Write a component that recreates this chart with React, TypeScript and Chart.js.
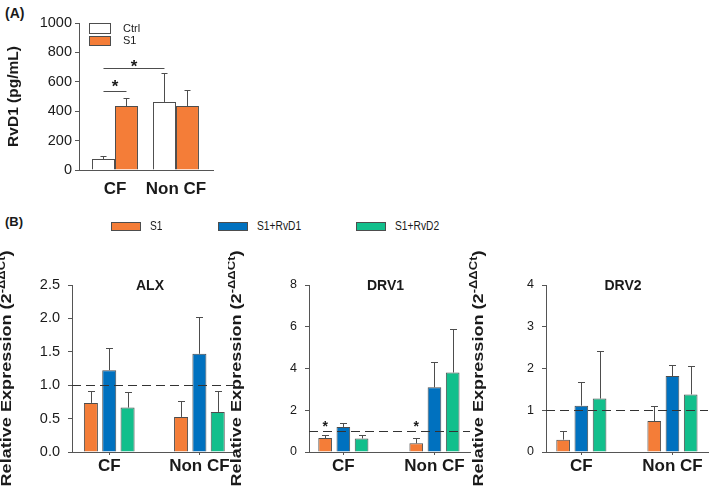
import React, { useEffect, useRef } from 'react';
import { Chart, registerables } from 'chart.js';

Chart.register(...registerables);

const FONT = '"Liberation Sans", Arial, Helvetica, sans-serif';
const ORANGE = '#F47D38';
const BLUE = '#0071BF';
const GREEN = '#12BF8C';
const WHITE = '#FFFFFF';
const EDGE = '#4d4d4d';
const AXIS = '#555555';
const TEXT = '#1a1a1a';

// ---------- shared categories ----------
const categories = ['CF', 'Non CF'];

// ---------- panel (A) ----------
const seriesA = ['Ctrl', 'S1'];
const ctrlA = [75, 463];
const ctrlASd = [22, 195];
const s1A = [435, 435];
const s1ASd = [52, 107];
const yTicksA = [0, 200, 400, 600, 800, 1000];
// bracket from (series, category) to (series, category), at value y, star at value star
const bracketsA = [
  { from: [0, 0], to: [1, 0], y: 537, star: 594 },
  { from: [0, 0], to: [0, 1], y: 696, star: 733 },
];

// ---------- panel (B) ----------
const seriesB = ['S1', 'S1+RvD1', 'S1+RvD2'];

const alxS1 = [0.735, 0.525];
const alxS1Sd = [0.18, 0.235];
const alxRvD1 = [1.225, 1.47];
const alxRvD1Sd = [0.325, 0.545];
const alxRvD2 = [0.665, 0.6];
const alxRvD2Sd = [0.235, 0.32];
const alxTicks = [0, 0.5, 1.0, 1.5, 2.0, 2.5];

const drv1S1 = [0.67, 0.415];
const drv1S1Sd = [0.13, 0.235];
const drv1RvD1 = [1.2, 3.1];
const drv1RvD1Sd = [0.19, 1.22];
const drv1RvD2 = [0.65, 3.81];
const drv1RvD2Sd = [0.18, 2.09];
const drv1Ticks = [0, 2, 4, 6, 8];
const drv1Stars = [
  { series: 0, cat: 0, y: 1.4 },
  { series: 0, cat: 1, y: 1.4 },
];

const drv2S1 = [0.295, 0.74];
const drv2S1Sd = [0.205, 0.36];
const drv2RvD1 = [1.11, 1.82];
const drv2RvD1Sd = [0.57, 0.26];
const drv2RvD2 = [1.28, 1.38];
const drv2RvD2Sd = [1.14, 0.69];
const drv2Ticks = [0, 1, 2, 3, 4];

const refValue = 1;

type Series = { label: string; values: number[]; sd: number[]; color: string };

type Spec = {
  left: number; top: number; width: number; height: number;
  padding: { left: number; right: number; top: number; bottom: number };
  yWidth: number; xHeight: number;
  xMin: number; xMax: number;
  yTicks: number[]; yDec: number; yFont: number; yPad: number;
  xFont: number; xPad: number; xTickLen: number;
  catPct: number; barPct: number; cap: number;
  series: Series[];
  title?: string;
  ref?: number;
  stars?: { series: number; cat: number; y: number }[];
  starSize?: number;
  brackets?: { from: number[]; to: number[]; y: number; star: number }[];
  yTitle: { main: string; sup?: string; tail?: string; x: number; size: number; length?: number };
};

function drawStar(ctx: CanvasRenderingContext2D, x: number, cy: number, size: number) {
  ctx.save();
  ctx.font = `bold ${size}px ${FONT}`;
  ctx.fillStyle = TEXT;
  ctx.textAlign = 'center';
  ctx.textBaseline = 'alphabetic';
  ctx.fillText('*', x, cy + size * 0.57);
  ctx.restore();
}

function drawYTitle(ctx: CanvasRenderingContext2D, cx: number, cy: number, t: Spec['yTitle']) {
  ctx.save();
  ctx.translate(cx, cy);
  ctx.rotate(-Math.PI / 2);
  const f1 = `bold ${t.size}px ${FONT}`;
  const f2 = `bold ${t.size * 0.72}px ${FONT}`;
  ctx.font = f1;
  const w1 = ctx.measureText(t.main).width;
  const w3 = t.tail ? ctx.measureText(t.tail).width : 0;
  ctx.font = f2;
  const w2 = t.sup ? ctx.measureText(t.sup).width : 0;
  const total = w1 + w2 + w3;
  const s = t.length ? t.length / total : 1;
  ctx.scale(s, 1);
  ctx.fillStyle = TEXT;
  ctx.textBaseline = 'middle';
  ctx.textAlign = 'left';
  let px = -total / 2;
  ctx.font = f1;
  ctx.fillText(t.main, px, 0);
  px += w1;
  if (t.sup) {
    ctx.font = f2;
    ctx.fillText(t.sup, px, -t.size * 0.34);
    px += w2;
  }
  if (t.tail) {
    ctx.font = f1;
    ctx.fillText(t.tail, px, 0);
  }
  ctx.restore();
}

function decorPlugin(spec: Spec) {
  return {
    id: 'decor',
    afterDatasetsDraw(chart: any) {
      const ctx: CanvasRenderingContext2D = chart.ctx;
      const area = chart.chartArea;
      const ys = chart.scales.y;
      ctx.save();
      // error bars (upper only)
      ctx.strokeStyle = EDGE;
      ctx.lineWidth = 1;
      spec.series.forEach((s, i) => {
        const meta = chart.getDatasetMeta(i);
        meta.data.forEach((bar: any, j: number) => {
          const x = Math.round(bar.x) + 0.5;
          const y0 = ys.getPixelForValue(s.values[j]);
          const y1 = Math.round(ys.getPixelForValue(s.values[j] + s.sd[j])) + 0.5;
          ctx.beginPath();
          ctx.moveTo(x, y0);
          ctx.lineTo(x, y1);
          ctx.moveTo(x - spec.cap / 2, y1);
          ctx.lineTo(x + spec.cap / 2, y1);
          ctx.stroke();
        });
      });
      // reference line
      if (spec.ref !== undefined) {
        const y = Math.round(ys.getPixelForValue(spec.ref)) + 0.5;
        ctx.save();
        ctx.strokeStyle = '#333333';
        ctx.setLineDash([9, 5]);
        ctx.beginPath();
        ctx.moveTo(area.left, y);
        ctx.lineTo(area.right, y);
        ctx.stroke();
        ctx.restore();
      }
      // stars over bars
      (spec.stars || []).forEach((st) => {
        const bar: any = chart.getDatasetMeta(st.series).data[st.cat];
        drawStar(ctx, bar.x, ys.getPixelForValue(st.y), spec.starSize || 14);
      });
      // brackets
      (spec.brackets || []).forEach((b) => {
        const a: any = chart.getDatasetMeta(b.from[0]).data[b.from[1]];
        const c: any = chart.getDatasetMeta(b.to[0]).data[b.to[1]];
        const y = Math.round(ys.getPixelForValue(b.y)) + 0.5;
        ctx.strokeStyle = EDGE;
        ctx.beginPath();
        ctx.moveTo(a.x, y);
        ctx.lineTo(c.x, y);
        ctx.stroke();
        drawStar(ctx, (a.x + c.x) / 2, ys.getPixelForValue(b.star), spec.starSize || 17);
      });
      // panel title
      if (spec.title) {
        ctx.font = `bold 14px ${FONT}`;
        ctx.fillStyle = TEXT;
        ctx.textAlign = 'center';
        ctx.textBaseline = 'middle';
        ctx.fillText(spec.title, (area.left + area.right) / 2 - 4, area.top + 1);
      }
      // y axis title
      drawYTitle(ctx, spec.yTitle.x, (area.top + area.bottom) / 2, spec.yTitle);
      ctx.restore();
    },
  };
}

function buildConfig(spec: Spec): any {
  const yMin = spec.yTicks[0];
  const yMax = spec.yTicks[spec.yTicks.length - 1];
  return {
    type: 'bar',
    data: {
      datasets: spec.series.map((s) => ({
        label: s.label,
        data: s.values.map((v, i) => ({ x: i + 1, y: v })),
        backgroundColor: s.color,
        borderColor: EDGE,
        borderWidth: 1,
        categoryPercentage: spec.catPct,
        barPercentage: spec.barPct,
      })),
    },
    options: {
      responsive: false,
      animation: false,
      devicePixelRatio: 1,
      layout: { padding: spec.padding },
      plugins: { legend: { display: false }, tooltip: { enabled: false }, title: { display: false } },
      scales: {
        x: {
          type: 'linear',
          bounds: 'data',
          offset: false,
          min: spec.xMin,
          max: spec.xMax,
          afterBuildTicks: (s: any) => {
            s.ticks = categories.map((_, i) => ({ value: i + 1 }));
          },
          afterFit: (s: any) => {
            s.height = spec.xHeight;
          },
          ticks: {
            autoSkip: false,
            maxRotation: 0,
            padding: spec.xPad,
            color: TEXT,
            font: { family: FONT, size: spec.xFont, weight: 'bold' },
            callback: (v: any) => categories[Math.round(Number(v)) - 1] ?? '',
          },
          grid: {
            display: true,
            offset: false,
            drawOnChartArea: false,
            drawTicks: spec.xTickLen > 0,
            tickLength: spec.xTickLen,
            color: AXIS,
          },
          border: { display: true, color: AXIS, width: 1 },
        },
        y: {
          type: 'linear',
          bounds: 'data',
          min: yMin,
          max: yMax,
          afterBuildTicks: (s: any) => {
            s.ticks = spec.yTicks.map((v) => ({ value: v }));
          },
          afterFit: (s: any) => {
            s.width = spec.yWidth;
          },
          ticks: {
            padding: spec.yPad,
            color: TEXT,
            font: { family: FONT, size: spec.yFont },
            callback: (v: any) => Number(v).toFixed(spec.yDec),
          },
          grid: { display: true, drawOnChartArea: false, drawTicks: true, tickLength: 4, color: AXIS },
          border: { display: true, color: AXIS, width: 1 },
        },
      },
    },
    plugins: [decorPlugin(spec)],
  };
}

const specA: Spec = {
  left: 0, top: 0, width: 230, height: 200,
  padding: { left: 29, right: 17, top: 23, bottom: 0 },
  yWidth: 50, xHeight: 30,
  xMin: 0.41, xMax: 2.607,
  yTicks: yTicksA, yDec: 0, yFont: 14.5, yPad: 3,
  xFont: 17, xPad: 9, xTickLen: 0,
  catPct: 0.754, barPct: 1, cap: 6,
  series: [
    { label: seriesA[0], values: ctrlA, sd: ctrlASd, color: WHITE },
    { label: seriesA[1], values: s1A, sd: s1ASd, color: ORANGE },
  ],
  brackets: bracketsA,
  starSize: 17,
  yTitle: { main: 'RvD1 (pg/mL)', x: 13.5, size: 15.5 },
};

const yTitleB = { main: 'Relative Expression (2', sup: '-ΔΔCt', tail: ')', size: 14, length: 236 };

function seriesFor(a: number[], aSd: number[], b: number[], bSd: number[], c: number[], cSd: number[]): Series[] {
  return [
    { label: seriesB[0], values: a, sd: aSd, color: ORANGE },
    { label: seriesB[1], values: b, sd: bSd, color: BLUE },
    { label: seriesB[2], values: c, sd: cSd, color: GREEN },
  ];
}

const specALX: Spec = {
  left: 0, top: 240, width: 240, height: 250,
  padding: { left: 27, right: 4, top: 45, bottom: 0 },
  yWidth: 45, xHeight: 38,
  xMin: 0.587, xMax: 2.406,
  yTicks: alxTicks, yDec: 1, yFont: 14.5, yPad: 8,
  xFont: 17, xPad: 1.5, xTickLen: 3,
  catPct: 0.61, barPct: 0.765, cap: 7,
  series: seriesFor(alxS1, alxS1Sd, alxRvD1, alxRvD1Sd, alxRvD2, alxRvD2Sd),
  title: 'ALX',
  ref: refValue,
  yTitle: { ...yTitleB, x: 7 },
};

const specDRV1: Spec = {
  left: 228, top: 240, width: 245, height: 250,
  padding: { left: 41, right: 3, top: 45, bottom: 0 },
  yWidth: 40, xHeight: 38,
  xMin: 0.623, xMax: 2.39,
  yTicks: drv1Ticks, yDec: 0, yFont: 12.5, yPad: 8,
  xFont: 17, xPad: 1.5, xTickLen: 3,
  catPct: 0.6, barPct: 0.75, cap: 7,
  series: seriesFor(drv1S1, drv1S1Sd, drv1RvD1, drv1RvD1Sd, drv1RvD2, drv1RvD2Sd),
  title: 'DRV1',
  ref: refValue,
  stars: drv1Stars,
  starSize: 14,
  yTitle: { ...yTitleB, x: 9 },
};

const specDRV2: Spec = {
  left: 466, top: 240, width: 243, height: 250,
  padding: { left: 40, right: 1, top: 45, bottom: 0 },
  yWidth: 40, xHeight: 38,
  xMin: 0.612, xMax: 2.39,
  yTicks: drv2Ticks, yDec: 0, yFont: 12.5, yPad: 8,
  xFont: 17, xPad: 1.5, xTickLen: 3,
  catPct: 0.6, barPct: 0.75, cap: 7,
  series: seriesFor(drv2S1, drv2S1Sd, drv2RvD1, drv2RvD1Sd, drv2RvD2, drv2RvD2Sd),
  title: 'DRV2',
  ref: refValue,
  yTitle: { ...yTitleB, x: 12.7 },
};

function ChartPanel({ spec }: { spec: Spec }) {
  const ref = useRef<HTMLCanvasElement>(null);
  useEffect(() => {
    const chart = new Chart(ref.current as HTMLCanvasElement, buildConfig(spec));
    return () => chart.destroy();
  }, [spec]);
  return (
    <canvas
      ref={ref}
      width={spec.width}
      height={spec.height}
      style={{ position: 'absolute', left: spec.left, top: spec.top, width: spec.width, height: spec.height }}
    />
  );
}

function Text({ x, cy, size, bold, children, scaleX }: any) {
  return (
    <div
      style={{
        position: 'absolute',
        left: x,
        top: cy - size / 2,
        height: size,
        lineHeight: `${size}px`,
        fontSize: size,
        fontFamily: FONT,
        fontWeight: bold ? 'bold' : 'normal',
        color: TEXT,
        whiteSpace: 'nowrap',
        transform: scaleX ? `scaleX(${scaleX})` : undefined,
        transformOrigin: 'left center',
      }}
    >
      {children}
    </div>
  );
}

function Box({ x, y, w, h, color }: any) {
  return (
    <div
      style={{
        position: 'absolute',
        left: x,
        top: y,
        width: w,
        height: h,
        boxSizing: 'border-box',
        border: `1px solid ${EDGE}`,
        background: color,
      }}
    />
  );
}

export default function App() {
  const legendB = [
    { x: 111, label: seriesB[0], color: ORANGE },
    { x: 218, label: seriesB[1], color: BLUE },
    { x: 356, label: seriesB[2], color: GREEN },
  ];
  return (
    <div style={{ position: 'fixed', left: 0, top: 0, width: 709, height: 490, background: '#fff', overflow: 'hidden' }}>
      <Text x={5} cy={13} size={14} bold>(A)</Text>
      <ChartPanel spec={specA} />
      <Box x={89} y={23} w={22} h={10.5} color={WHITE} />
      <Box x={89} y={35.5} w={22} h={10.5} color={ORANGE} />
      <Text x={123} cy={28.3} size={11}>{seriesA[0]}</Text>
      <Text x={123} cy={40.7} size={11}>{seriesA[1]}</Text>

      <Text x={5} cy={221} size={13} bold>(B)</Text>
      {legendB.map((l) => (
        <React.Fragment key={l.label}>
          <Box x={l.x} y={222} w={30} h={9} color={l.color} />
          <Text x={l.x + 39} cy={226.5} size={12.5} scaleX={0.82}>{l.label}</Text>
        </React.Fragment>
      ))}

      <ChartPanel spec={specALX} />
      <ChartPanel spec={specDRV1} />
      <ChartPanel spec={specDRV2} />
    </div>
  );
}
